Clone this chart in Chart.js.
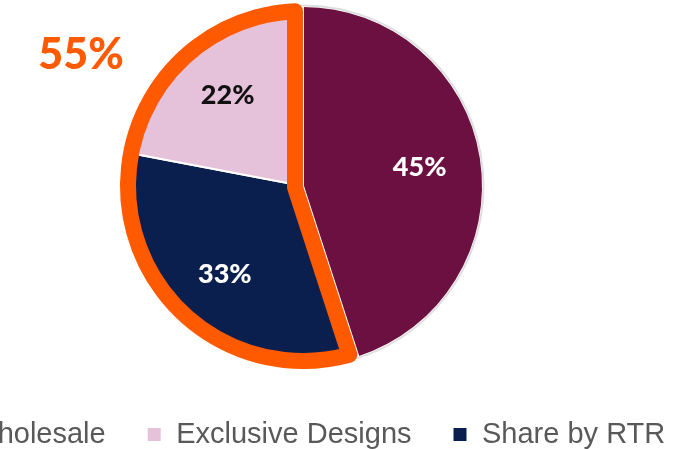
<!DOCTYPE html>
<html>
<head>
<meta charset="utf-8">
<script src="https://cdn.jsdelivr.net/npm/chart.js@4.4.1/dist/chart.umd.min.js"></script>
<style>
  body { margin: 0; background: #fff; }
  #wrap { position: relative; width: 677px; height: 449px; overflow: hidden; }
  #chart { position: absolute; left: -120px; top: -7px; }
</style>
</head>
<body>
<div id="wrap"><canvas id="chart" width="846" height="466"></canvas></div>
<script>
// slices in clockwise order from 12 o'clock
const categories = ['Wholesale', 'Share by RTR', 'Exclusive Designs'];
const shares = [45, 33, 22];
const sliceColors = ['#6b1040', '#0b1f4e', '#e5c1da'];
const labelColors = ['#ffffff', '#ffffff', '#111111'];
// legend reads in a different order than the slices
const legendOrder = ['Wholesale', 'Exclusive Designs', 'Share by RTR'];
// slices grouped by the orange outline
const highlighted = ['Share by RTR', 'Exclusive Designs'];
const orange = '#ff5a00';
const labelFont = 'Lato, "Open Sans", sans-serif';

const outlinePlugin = {
  id: 'outline',
  beforeDatasetsDraw(chart) {
    const arc = chart.getDatasetMeta(0).data[0];
    const ctx = chart.ctx;
    ctx.save();
    ctx.beginPath();
    ctx.arc(arc.x, arc.y, arc.outerRadius + 1.5, 0, Math.PI * 2);
    ctx.strokeStyle = 'rgba(0,0,0,0.13)';
    ctx.lineWidth = 2;
    ctx.stroke();
    ctx.restore();
  },
  afterDatasetsDraw(chart) {
    const ctx = chart.ctx;
    const meta = chart.getDatasetMeta(0);
    const arcs = highlighted.map(n => meta.data[categories.indexOf(n)]);
    const a1 = Math.min(...arcs.map(a => a.startAngle));
    const a2 = Math.max(...arcs.map(a => a.endAngle));
    const { x, y, outerRadius } = arcs[0];

    // orange band along the inside of the grouped sector
    const w = 16, h = w / 2, ra = outerRadius - 4;
    const theta = a2 - a1;
    const mid = a1 + theta / 2;
    const dv = h / Math.sin(theta / 2);
    const da = Math.asin(h / ra);
    ctx.save();
    ctx.beginPath();
    ctx.moveTo(x + dv * Math.cos(mid), y + dv * Math.sin(mid));
    ctx.lineTo(x + ra * Math.cos(a1 + da), y + ra * Math.sin(a1 + da));
    ctx.arc(x, y, ra, a1 + da, a2 - da);
    ctx.closePath();
    ctx.strokeStyle = orange;
    ctx.lineWidth = w;
    ctx.lineJoin = 'round';
    ctx.stroke();

    // percentage labels
    ctx.textAlign = 'center';
    ctx.textBaseline = 'middle';
    ctx.font = '900 27px ' + labelFont;
    meta.data.forEach((arc, i) => {
      const m = (arc.startAngle + arc.endAngle) / 2;
      const r = arc.outerRadius * 0.66;
      ctx.fillStyle = labelColors[i];
      ctx.fillText(shares[i] + '%', arc.x + r * Math.cos(m), arc.y + r * Math.sin(m));
    });

    // combined share of the outlined slices
    const total = highlighted.reduce((s, n) => s + shares[categories.indexOf(n)], 0);
    ctx.font = '900 43px ' + labelFont;
    ctx.fillStyle = orange;
    ctx.fillText(total + '%', x - outerRadius * 1.24, y - outerRadius * 0.73);
    ctx.restore();
  }
};

function draw() {
  new Chart(document.getElementById('chart'), {
    type: 'pie',
    data: {
      labels: categories,
      datasets: [{
        data: shares,
        backgroundColor: sliceColors,
        borderColor: '#ffffff',
        borderWidth: [0, 2, 2]
      }]
    },
    options: {
      responsive: false,
      animation: false,
      radius: 179,
      events: [],
      plugins: {
        tooltip: { enabled: false },
        legend: {
          position: 'bottom',
          labels: {
            boxWidth: 15,
            boxHeight: 15,
            padding: 41,
            color: '#595959',
            font: { family: 'Liberation Sans', size: 29 },
            sort: (a, b) => legendOrder.indexOf(a.text) - legendOrder.indexOf(b.text)
          }
        }
      }
    },
    plugins: [outlinePlugin]
  });
}

Promise.all([
  document.fonts.load('900 27px Lato'),
  document.fonts.load('29px "Liberation Sans"')
]).then(draw, draw);
</script>
</body>
</html>
